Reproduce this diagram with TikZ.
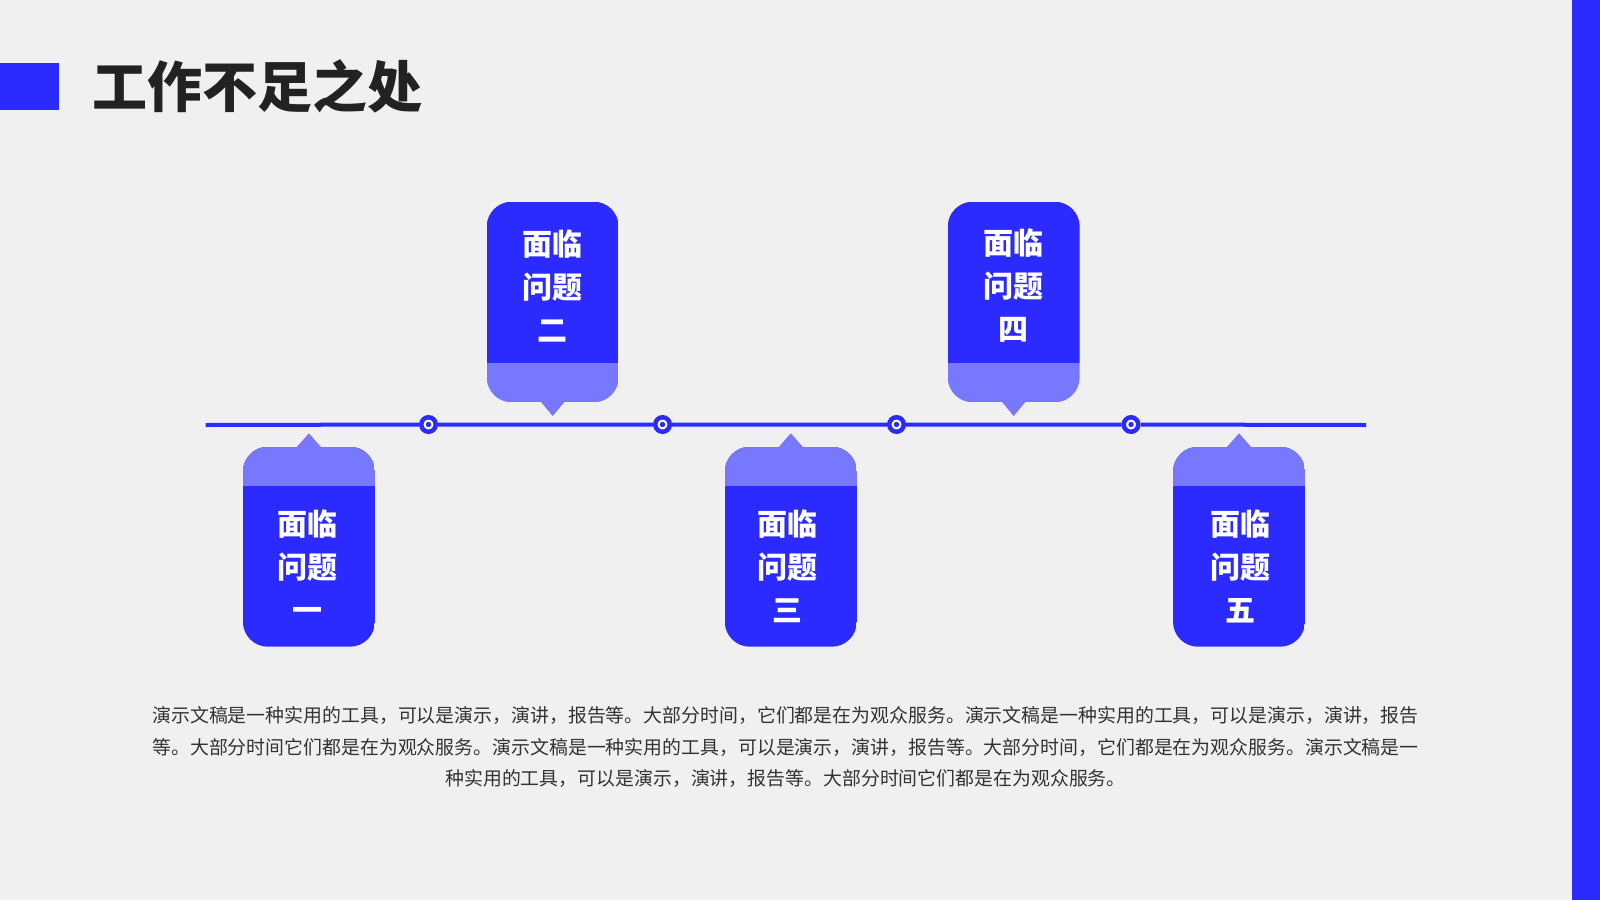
\documentclass[tikz,border=0pt]{standalone}
\usepackage{fontspec}
\newfontfamily\cjk{Noto Sans CJK SC}
\definecolor{bg}{HTML}{F0F0F0}
\definecolor{mainblue}{HTML}{2B2BFF}
\definecolor{lightblue}{HTML}{7878FF}
\definecolor{titlegray}{HTML}{222222}
\definecolor{textgray}{HTML}{333333}
\newcommand\upbox[1]{%
  \begin{scope}
    \clip[rounded corners=12.5pt] (#1-66,201.7) rectangle (#1+66,402.3);
    \fill[mainblue] (#1-66,201.7) rectangle (#1+66,363.3);
    \fill[lightblue] (#1-66,363.3) rectangle (#1+66,402.3);
  \end{scope}
  \fill[lightblue] (#1-12.5,401) -- (#1+12.5,401) -- (#1,416) -- cycle;
}
\newcommand\downbox[1]{%
  \begin{scope}
    \clip[rounded corners=12.5pt] (#1-66,446.7) rectangle (#1+66,646.7);
    \fill[mainblue] (#1-66,446.7) rectangle (#1+66,646.7);
    \fill[lightblue] (#1-66,446.7) rectangle (#1+66,485.7);
  \end{scope}
  \fill[lightblue] (#1-13,448) -- (#1+13,448) -- (#1,433.3) -- cycle;
}
\begin{document}
\begin{tikzpicture}[x=0.5pt,y=-0.5pt,
  boxtext/.style={text=white, align=center, inner sep=0pt,
    font=\cjk\bfseries\fontsize{15pt}{21.5pt}\selectfont},
  tldot/.style={circle, inner sep=0pt, minimum size=7.25pt, fill=white,
    draw=mainblue, line width=2.25pt,
    path picture={\fill[mainblue] (path picture bounding box.center) circle (1.35pt);}}]
\useasboundingbox (0,0) rectangle (1600,900);
\fill[bg] (0,0) rectangle (1600,900);
% right bar and title square
\fill[mainblue] (1571.7,0) rectangle (1600,900);
\fill[mainblue] (0,63) rectangle (59,110);
\node[anchor=west, inner sep=0pt, text=titlegray,
  font=\cjk\bfseries\fontsize{27.5pt}{30pt}\selectfont] (title) at (92,86) {工作不足之处};
% boxes
\downbox{308.9}
\upbox{552.7}
\downbox{790.8}
\upbox{1013.7}
\downbox{1239}
\node[boxtext] (q1) at (307.5,566) {面临\\问题\\一};
\node[boxtext] (q2) at (552.7,286) {面临\\问题\\二};
\node[boxtext] (q3) at (787.5,566) {面临\\问题\\三};
\node[boxtext] (q4) at (1013.7,286) {面临\\问题\\四};
\node[boxtext] (q5) at (1240,566) {面临\\问题\\五};
% timeline
\coordinate (L) at (205.7,425);
\coordinate (R) at (1366,425);
\node[tldot] (d1) at (428.5,424.5) {};
\node[tldot] (d2) at (662.5,424.5) {};
\node[tldot] (d3) at (896.5,424.5) {};
\node[tldot] (d4) at (1131,424.5) {};
\draw[mainblue, line width=2pt] (L) -- (d1) (d1) -- (d2) (d2) -- (d3) (d3) -- (d4) (d4) -- (R);
% paragraph
\node[align=center, inner sep=0pt, text=textgray,
  font=\cjk\fontsize{9.45pt}{15.8pt}\selectfont] (para) at (785.5,747)
{演示文稿是一种实用的工具，可以是演示，演讲，报告等。大部分时间，它们都是在为观众服务。演示文稿是一种实用的工具，可以是演示，演讲，报告\\
等。大部分时间它们都是在为观众服务。演示文稿是一种实用的工具，可以是演示，演讲，报告等。大部分时间，它们都是在为观众服务。演示文稿是一\\
种实用的工具，可以是演示，演讲，报告等。大部分时间它们都是在为观众服务。};
\end{tikzpicture}
\end{document}
